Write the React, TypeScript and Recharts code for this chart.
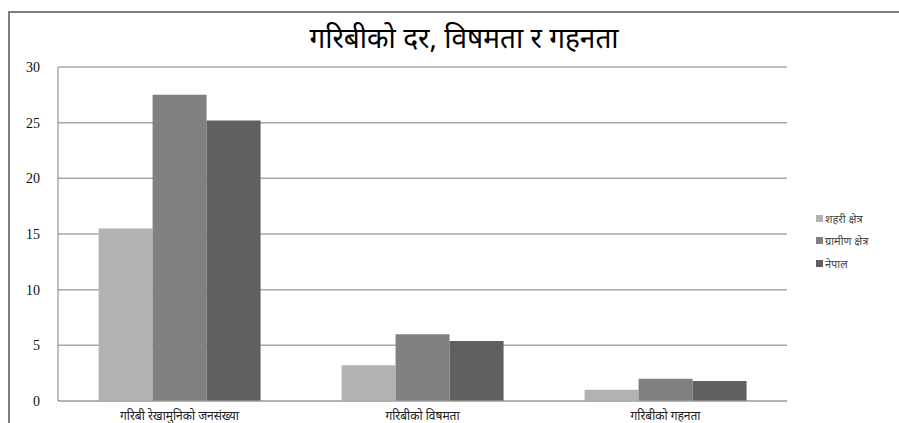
import { BarChart, Bar, XAxis, YAxis, CartesianGrid } from "recharts";

const categories = ["गरिबी रेखामुनिको जनसंख्या", "गरिबीको विषमता", "गरिबीको गहनता"];
const urban = [15.5, 3.2, 1.0];
const rural = [27.5, 6.0, 2.0];
const nepal = [25.2, 5.4, 1.8];
const yTicks = [0, 5, 10, 15, 20, 25, 30];

const seriesInfo = [
  { key: "urban", name: "शहरी क्षेत्र", color: "#b2b2b2" },
  { key: "rural", name: "ग्रामीण क्षेत्र", color: "#808080" },
  { key: "nepal", name: "नेपाल", color: "#606060" },
];

const data = categories.map((c, i) => ({
  label: c,
  urban: urban[i],
  rural: rural[i],
  nepal: nepal[i],
}));

export default function App() {
  return (
    <div style={{ position: "absolute", left: 0, top: 0, width: 899, height: 423, background: "#fff", overflow: "hidden" }}>
      <div
        style={{
          position: "absolute",
          left: 8,
          top: 11,
          width: 900,
          height: 430,
          border: "2px solid #7f7f7f",
          boxSizing: "border-box",
        }}
      />
      <div
        style={{
          position: "absolute",
          left: 0,
          top: 18,
          width: 928,
          textAlign: "center",
          fontFamily: "'Noto Sans', sans-serif",
          fontSize: 28,
          fontWeight: 400,
          color: "#000",
        }}
      >
        गरिबीको दर, विषमता र गहनता
      </div>
      <div style={{ position: "absolute", left: 0, top: 0 }}>
        <BarChart
          width={899}
          height={423}
          data={data}
          margin={{ top: 67, right: 112, left: 8, bottom: 0 }}
          barCategoryGap="16.7%"
          barGap={0}
        >
          <CartesianGrid vertical={false} stroke="#a8a8a8" strokeWidth={1.5} />
          <XAxis
            dataKey="label"
            axisLine={{ stroke: "#a8a8a8" }}
            tickLine={false}
            height={22}
            tick={{ fontSize: 12, fill: "#222", fontFamily: "'Noto Sans', sans-serif" }}
            tickMargin={4}
          />
          <YAxis
            domain={[0, 30]}
            ticks={yTicks}
            width={50}
            axisLine={{ stroke: "#808080" }}
            tickLine={false}
            tickMargin={12}
            tick={{ fontSize: 14, fill: "#111", fontFamily: "'Liberation Serif', serif" }}
          />
          {seriesInfo.map((s) => (
            <Bar key={s.key} dataKey={s.key} name={s.name} fill={s.color} isAnimationActive={false} />
          ))}
        </BarChart>
      </div>
      <div
        style={{
          position: "absolute",
          left: 816,
          top: 207,
          fontFamily: "'Noto Sans', sans-serif",
          fontSize: 11,
          color: "#444",
        }}
      >
        {seriesInfo.map((s) => (
          <div key={s.key} style={{ display: "flex", alignItems: "center", height: 22.5 }}>
            <span style={{ width: 7, height: 7, background: s.color, marginRight: 2, display: "inline-block" }} />
            <span>{s.name}</span>
          </div>
        ))}
      </div>
    </div>
  );
}
